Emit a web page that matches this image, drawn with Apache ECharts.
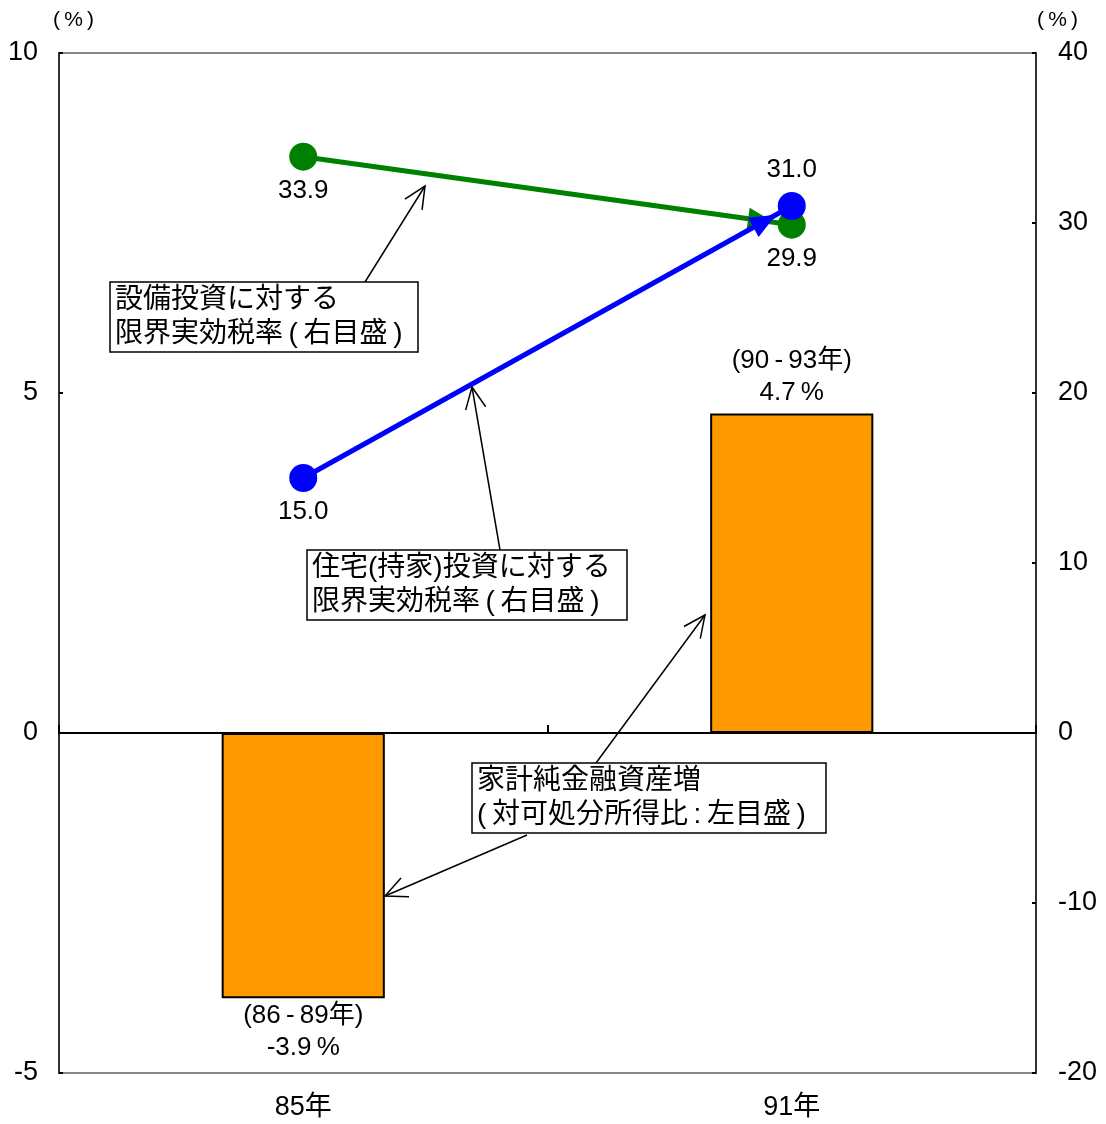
<!DOCTYPE html>
<html>
<head>
<meta charset="utf-8">
<script src="https://cdn.jsdelivr.net/npm/echarts@6/dist/echarts.min.js"></script>
<style>
html,body{margin:0;padding:0;background:#fff;}
#chart{width:1106px;height:1124px;}
</style>
</head>
<body>
<div id="chart"></div>
<script>
// ---- data ----
const categories = ['85年', '91年'];
const netAssetIncrease = [-3.9, 4.7];          // left axis (%)
const periodLabels = ['(86\u2009-\u200989年)', '(90\u2009-\u200993年)'];
const equipmentTaxRate = [33.9, 29.9];          // right axis (%)
const housingTaxRate = [15.0, 31.0];            // right axis (%)
const leftTicks = { min: -5, max: 10, interval: 5 };
const rightTicks = { min: -20, max: 40, interval: 10 };

const FONT = "'Liberation Sans', 'Noto Sans CJK JP', sans-serif";
const chart = echarts.init(document.getElementById('chart'));

function arrow(tip, from, color) {
  const dx = from[0] - tip[0], dy = from[1] - tip[1];
  const len = Math.sqrt(dx * dx + dy * dy);
  const ux = dx / len, uy = dy / len;
  const L = 24, a = 25 * Math.PI / 180;
  const w1 = [tip[0] + L * (ux * Math.cos(a) - uy * Math.sin(a)), tip[1] + L * (ux * Math.sin(a) + uy * Math.cos(a))];
  const w2 = [tip[0] + L * (ux * Math.cos(-a) - uy * Math.sin(-a)), tip[1] + L * (ux * Math.sin(-a) + uy * Math.cos(-a))];
  return [
    { type: 'line', shape: { x1: from[0], y1: from[1], x2: tip[0], y2: tip[1] }, style: { stroke: color, lineWidth: 1.5 }, z: 50 },
    { type: 'polyline', shape: { points: [w1, tip, w2] }, style: { stroke: color, lineWidth: 1.5, fill: null }, z: 50 }
  ];
}
function box(x, y, w, h, text) {
  return [
    { type: 'rect', shape: { x: x, y: y, width: w, height: h }, style: { fill: '#fff', stroke: '#000', lineWidth: 1.5 }, z: 60 },
    { type: 'text', x: x + 5, y: y + 1, style: { text: text, font: '28px ' + FONT, fill: '#000', lineHeight: 34 }, z: 61 }
  ];
}

const graphics = [].concat(
  [{ type: 'text', x: 53, y: 10, style: { text: '(\u2009%\u2009)', font: '21px ' + FONT, fill: '#000' } },
   { type: 'text', x: 1037, y: 10, style: { text: '(\u2009%\u2009)', font: '21px ' + FONT, fill: '#000' } }],
  arrow([425, 186], [365, 282], '#000'),
  arrow([472, 387], [500, 550], '#000'),
  arrow([705, 615], [596, 763], '#000'),
  arrow([385, 896], [527, 835], '#000'),
  box(110, 282, 308, 70, '設備投資に対する\n限界実効税率\u2009(\u2009右目盛\u2009)'),
  box(307, 550, 320, 70, '住宅(持家)投資に対する\n限界実効税率\u2009(\u2009右目盛\u2009)'),
  box(472, 763, 354, 70, '家計純金融資産増\n(\u2009対可処分所得比\u2009:\u2009左目盛\u2009)')
);

const lineColors = ['#008000', '#0000FF'];
const arrowData = [
  [0, equipmentTaxRate[0], 1, equipmentTaxRate[1]],
  [0, housingTaxRate[0], 1, housingTaxRate[1]]
];

const option = {
  animation: false,
  backgroundColor: '#fff',
  textStyle: { fontFamily: FONT },
  grid: { left: 59, right: 70, top: 53, bottom: 51, show: true, borderColor: '#888', borderWidth: 2, backgroundColor: 'transparent' },
  xAxis: [
    {
      type: 'category', data: categories, position: 'bottom',
      axisLine: { onZero: true, lineStyle: { color: '#000', width: 2 } },
      axisTick: { show: true, inside: true, length: 8, lineStyle: { color: '#000', width: 2 } },
      axisLabel: { show: false }, splitLine: { show: false }
    },
    {
      type: 'category', data: categories, position: 'bottom',
      axisLine: { show: false, onZero: false }, axisTick: { show: false },
      axisLabel: { show: true, color: '#000', fontSize: 27, fontFamily: FONT, margin: 21 },
      splitLine: { show: false }
    }
  ],
  yAxis: [
    {
      type: 'value', min: leftTicks.min, max: leftTicks.max, interval: leftTicks.interval, position: 'left',
      axisLine: { show: true, onZero: false, lineStyle: { color: '#333', width: 2 } },
      axisTick: { show: true, inside: true, length: 4, lineStyle: { color: '#000', width: 2 } },
      axisLabel: { color: '#000', fontSize: 27, fontFamily: FONT, margin: 21 },
      splitLine: { show: false }
    },
    {
      type: 'value', min: rightTicks.min, max: rightTicks.max, interval: rightTicks.interval, position: 'right',
      axisLine: { show: true, onZero: false, lineStyle: { color: '#333', width: 2 } },
      axisTick: { show: true, inside: true, length: 4, lineStyle: { color: '#000', width: 2 } },
      axisLabel: { color: '#000', fontSize: 27, fontFamily: FONT, margin: 22 },
      splitLine: { show: false }
    }
  ],
  graphic: graphics,
  series: [
    {
      type: 'bar', xAxisIndex: 0, yAxisIndex: 0, barWidth: '33.4%',
      data: netAssetIncrease.map((v, i) => ({
        value: v,
        label: {
          show: true, position: v >= 0 ? 'top' : 'bottom', distance: v >= 0 ? 5 : 2,
          formatter: periodLabels[i] + '\n' + v.toFixed(1) + '\u2009%',
          color: '#000', fontSize: 26, fontFamily: FONT, lineHeight: 32
        }
      })),
      itemStyle: { color: '#FF9900', borderColor: '#000', borderWidth: 2 },
      z: 2
    },
    {
      type: 'line', name: 'housing', xAxisIndex: 0, yAxisIndex: 1,
      data: housingTaxRate.map((v, i) => ({
        value: v,
        label: { show: true, position: i === 0 ? 'bottom' : 'top', distance: i === 0 ? 7 : 9,
                 formatter: v.toFixed(1), color: '#000', fontSize: 26, fontFamily: FONT }
      })),
      symbol: 'circle', symbolSize: 28,
      lineStyle: { color: lineColors[1], width: 5 },
      itemStyle: { color: lineColors[1] },
      z: 4
    },
    {
      type: 'line', name: 'equipment', xAxisIndex: 0, yAxisIndex: 1,
      data: equipmentTaxRate.map((v, i) => ({
        value: v,
        label: { show: true, position: 'bottom', distance: 7,
                 formatter: v.toFixed(1), color: '#000', fontSize: 26, fontFamily: FONT }
      })),
      symbol: 'circle', symbolSize: 28,
      lineStyle: { color: lineColors[0], width: 5 },
      itemStyle: { color: lineColors[0] },
      z: 3
    },
    {
      type: 'custom', xAxisIndex: 0, yAxisIndex: 1,
      data: arrowData,
      renderItem: function (params, api) {
        const p0 = api.coord([api.value(0), api.value(1)]);
        const p1 = api.coord([api.value(2), api.value(3)]);
        const dx = p1[0] - p0[0], dy = p1[1] - p0[1];
        const len = Math.sqrt(dx * dx + dy * dy);
        const ux = dx / len, uy = dy / len;
        const back = 18, L = 26, hw = 11;
        const tip = [p1[0] - ux * back, p1[1] - uy * back];
        const base = [tip[0] - ux * L, tip[1] - uy * L];
        return {
          type: 'polygon',
          shape: { points: [tip, [base[0] - uy * hw, base[1] + ux * hw], [base[0] + uy * hw, base[1] - ux * hw]] },
          style: { fill: lineColors[params.dataIndex] },
          z2: params.dataIndex === 1 ? 10 : 5
        };
      },
      z: 3.5, silent: true
    }
  ]
};
chart.setOption(option);
</script>
</body>
</html>
